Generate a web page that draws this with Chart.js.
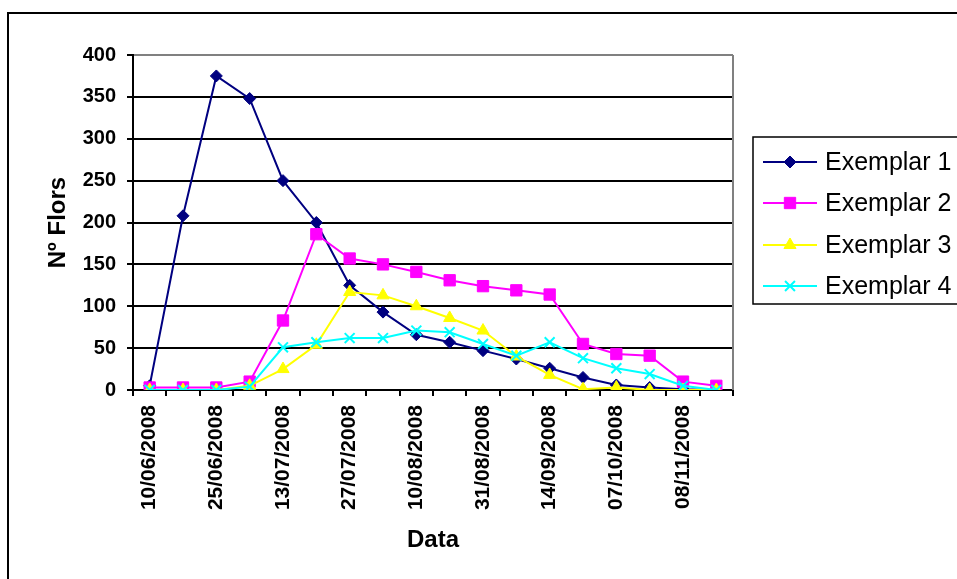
<!DOCTYPE html>
<html>
<head>
<meta charset="utf-8">
<script src="https://cdn.jsdelivr.net/npm/chart.js@4/dist/chart.umd.min.js"></script>
<style>
html,body{margin:0;padding:0;background:#fff;}
#wrap{width:957px;height:579px;}
</style>
</head>
<body>
<div id="wrap"><canvas id="c" width="957" height="579"></canvas></div>
<script>
// Categories (only every other date is shown on the axis)
const dateLabels = ['10/06/2008','', '25/06/2008','', '13/07/2008','', '27/07/2008','', '10/08/2008','', '31/08/2008','', '14/09/2008','', '07/10/2008','', '08/11/2008',''];
const yTicks = [0, 50, 100, 150, 200, 250, 300, 350, 400];
const seriesNames = ['Exemplar 1', 'Exemplar 2', 'Exemplar 3', 'Exemplar 4'];
const exemplar1 = [5, 208, 375, 348, 250, 200, 125, 93, 66, 57, 47, 37, 26, 15, 6, 3, 1, 0];
const exemplar2 = [3, 3, 3, 10, 83, 186, 157, 150, 141, 131, 124, 119, 114, 55, 43, 41, 10, 5];
const exemplar3 = [0, 0, 0, 5, 25, 54, 117, 113, 100, 86, 71, 40, 18, 1, 3, 0, 0, 0];
const exemplar4 = [0, 0, 0, 4, 51, 57, 62, 62, 71, 69, 55, 41, 57, 38, 26, 19, 5, 0];

const FONT = "'Liberation Sans', Arial, sans-serif";

const styles = [
  {color:'#000080', pointStyle:'rectRot', radius:6, order:4},
  {color:'#FF00FF', pointStyle:'rect', radius:8, order:3},
  {color:'#FFFF00', pointStyle:'triangle', radius:7, order:2},
  {color:'#00FFFF', pointStyle:'crossRot', radius:7, order:1}
];
const values = [exemplar1, exemplar2, exemplar3, exemplar4];

const datasets = values.map((v, i) => ({
  label: seriesNames[i],
  data: v,
  borderColor: styles[i].color,
  backgroundColor: styles[i].color,
  borderWidth: 2,
  pointStyle: styles[i].pointStyle,
  pointRadius: styles[i].radius,
  pointHoverRadius: styles[i].radius,
  pointBackgroundColor: styles[i].color,
  pointBorderColor: styles[i].color,
  pointBorderWidth: styles[i].pointStyle === 'crossRot' ? 2 : 1,
  tension: 0,
  fill: false,
  order: styles[i].order
}));

const framePlugin = {
  id: 'frame',
  beforeDatasetsDraw(chart) {
    const ctx = chart.ctx, a = chart.chartArea;
    ctx.save();
    ctx.strokeStyle = '#808080';
    ctx.lineWidth = 2;
    ctx.beginPath();
    ctx.moveTo(a.right, a.top);
    ctx.lineTo(a.right, a.bottom);
    ctx.stroke();
    ctx.restore();
  },
  afterDraw(chart) {
    const ctx = chart.ctx;
    ctx.save();
    // outer chart border
    ctx.strokeStyle = '#000';
    ctx.lineWidth = 2;
    ctx.strokeRect(8, 13, 1000, 1000);
    // legend box
    ctx.lineWidth = 1.5;
    ctx.fillStyle = '#fff';
    ctx.fillRect(753, 137, 300, 167);
    ctx.strokeRect(753, 137, 300, 167);
    const rowY = [162, 203, 245, 286];
    chart.data.datasets.forEach((ds, i) => {
      const y = rowY[i];
      ctx.strokeStyle = ds.borderColor;
      ctx.lineWidth = 2;
      ctx.beginPath();
      ctx.moveTo(763, y);
      ctx.lineTo(817, y);
      ctx.stroke();
      ctx.fillStyle = ds.pointBackgroundColor;
      ctx.strokeStyle = ds.pointBorderColor;
      ctx.lineWidth = ds.pointBorderWidth;
      Chart.helpers.drawPoint(ctx, {
        pointStyle: ds.pointStyle,
        radius: ds.pointRadius,
        rotation: 0,
        borderWidth: ds.pointBorderWidth
      }, 790, y);
      ctx.fillStyle = '#000';
      ctx.font = '25px ' + FONT;
      ctx.textAlign = 'left';
      ctx.textBaseline = 'middle';
      ctx.fillText(ds.label, 825, y + 1);
    });
    ctx.restore();
  }
};

new Chart(document.getElementById('c'), {
  type: 'line',
  data: { labels: dateLabels, datasets: datasets },
  options: {
    responsive: false,
    animation: false,
    devicePixelRatio: 1,
    layout: { padding: { left: 8, top: 55, right: 224, bottom: 0 } },
    plugins: { legend: { display: false }, tooltip: { enabled: false } },
    scales: {
      x: {
        type: 'category',
        offset: true,
        afterFit(scale) { scale.height = 189; },
        grid: { display: true, drawOnChartArea: false, drawTicks: true, tickLength: 6, color: '#000', lineWidth: 2, offset: true },
        border: { display: true, color: '#000', width: 2 },
        ticks: {
          autoSkip: false, minRotation: 90, maxRotation: 90, padding: 9,
          color: '#000', font: { family: FONT, size: 21, weight: 'bold' }
        },
        title: {
          display: true, text: 'Data', color: '#000',
          font: { family: FONT, size: 24, weight: 'bold' },
          padding: { top: 0, bottom: 24 }
        }
      },
      y: {
        min: yTicks[0], max: yTicks[yTicks.length - 1],
        afterFit(scale) { scale.width = 125; },
        afterBuildTicks(scale) { scale.ticks = yTicks.map(v => ({ value: v })); },
        grid: {
          color: ctx => (ctx.tick && ctx.tick.value === 400) ? '#808080' : '#000',
          tickColor: '#000',
          lineWidth: 2, drawTicks: true, tickLength: 6
        },
        border: { display: true, color: '#000', width: 2 },
        ticks: {
          stepSize: 50, padding: 11, color: '#000',
          font: { family: FONT, size: 20, weight: 'bold' }
        },
        title: {
          display: true, text: 'Nº Flors', color: '#000',
          font: { family: FONT, size: 24, weight: 'bold' },
          padding: { top: 36, bottom: 0 }
        }
      }
    }
  },
  plugins: [framePlugin]
});
</script>
</body>
</html>
